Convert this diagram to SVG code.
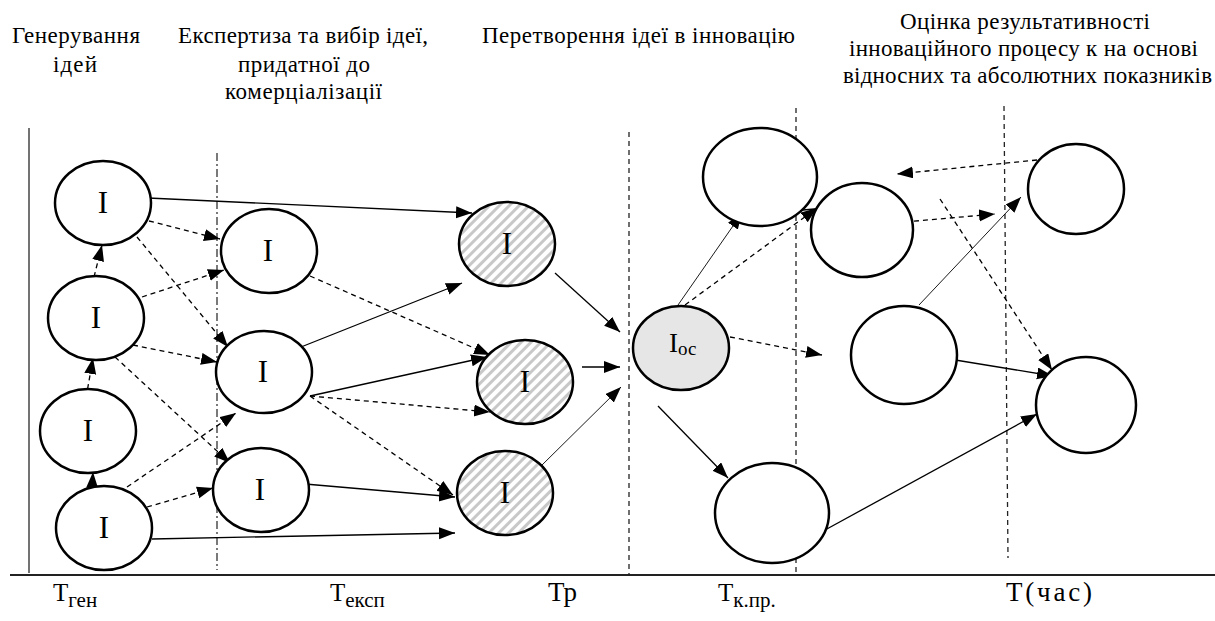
<svg xmlns="http://www.w3.org/2000/svg" width="1215" height="621" viewBox="0 0 1215 621">
<defs>
<marker id="ah" markerUnits="userSpaceOnUse" markerWidth="17" markerHeight="13" refX="16" refY="6" orient="auto" viewBox="0 0 17 13">
<path d="M0,0 L16,6 L0,12 z" fill="#000" stroke="none"/>
</marker>
<pattern id="hatch" patternUnits="userSpaceOnUse" width="7" height="7" patternTransform="rotate(45)">
<rect width="7" height="7" fill="#fff"/>
<rect width="3" height="7" fill="#c8c8c8"/>
</pattern>
</defs>
<rect width="1215" height="621" fill="#fff"/>

<g id="headers" fill="#000" font-family="Liberation Serif, serif" font-size="23">
<text x="12" y="43" textLength="128" lengthAdjust="spacing">Генерування</text>
<text x="53" y="72" textLength="44" lengthAdjust="spacing">ідей</text>
<text x="178" y="43" textLength="250" lengthAdjust="spacing">Експертиза та вибір ідеї,</text>
<text x="238" y="72" textLength="132" lengthAdjust="spacing">придатної до</text>
<text x="225" y="99" textLength="157" lengthAdjust="spacing">комерціалізації</text>
<text x="482" y="43" textLength="313" lengthAdjust="spacing">Перетворення ідеї в інновацію</text>
<text x="900" y="29" textLength="250" lengthAdjust="spacing">Оцінка результативності</text>
<text x="849" y="56" textLength="349" lengthAdjust="spacing">інноваційного процесу к на основі</text>
<text x="843" y="83" textLength="369" lengthAdjust="spacing">відносних та абсолютних показників</text>
</g>

<g id="axes" fill="none">
<line x1="29" y1="128" x2="29" y2="573" stroke="#444" stroke-width="1.5"/>
<line x1="10" y1="575" x2="1215" y2="575" stroke="#222" stroke-width="2"/>
<line x1="217" y1="153" x2="217" y2="570" stroke="#222" stroke-width="1.2" stroke-dasharray="8,3,2,3"/>
<g stroke="#222" stroke-width="1.3" stroke-dasharray="5,4">
<line x1="629" y1="132" x2="629" y2="575"/>
<line x1="796" y1="108" x2="796" y2="572"/>
<line x1="1004" y1="106" x2="1008" y2="558"/>
</g>
</g>

<g id="axis-labels" fill="#000" font-family="Liberation Serif, serif" font-size="25">
<text x="53" y="601">Т<tspan font-size="21" dy="6">ген</tspan></text>
<text x="330" y="601">Т<tspan font-size="21" dy="6">експ</tspan></text>
<text x="548" y="601" font-size="27">Тр</text>
<text x="718" y="601">Т<tspan font-size="21" dy="6">к.пр.</tspan></text>
<text x="1006" y="601" font-size="27" textLength="86" lengthAdjust="spacing">Т(час)</text>
</g>

<g id="connectors" stroke="#000" fill="none" marker-end="url(#ah)">
<g stroke-width="1.3">
<line x1="148" y1="198" x2="472" y2="213"/>
<line x1="301" y1="347" x2="462" y2="283"/>
<line x1="310" y1="396" x2="487" y2="357"/>
<line x1="305" y1="484" x2="455" y2="497"/>
<line x1="152" y1="539" x2="455" y2="533"/>
<line x1="555" y1="273" x2="620" y2="332"/>
<line x1="582" y1="367" x2="620" y2="367"/>
<line x1="658" y1="406" x2="728" y2="478"/>
<line x1="825" y1="530" x2="1037" y2="414"/>
<line x1="943" y1="358" x2="1053" y2="376"/>
<line x1="803" y1="210" x2="837" y2="207"/>
</g>
<g stroke-width="0.9">
<line x1="540" y1="467" x2="621" y2="387"/>
<line x1="678" y1="305" x2="742" y2="213"/>
<line x1="919" y1="305" x2="1021" y2="197"/>
</g>
<g stroke-width="1.3" stroke-dasharray="5,4">
<line x1="149" y1="221" x2="220" y2="239"/>
<line x1="142" y1="297" x2="224" y2="270"/>
<line x1="137" y1="237" x2="228" y2="347"/>
<line x1="133" y1="345" x2="217" y2="362"/>
<line x1="115" y1="357" x2="230" y2="463"/>
<line x1="127" y1="487" x2="236" y2="413"/>
<line x1="147" y1="507" x2="213" y2="488"/>
<line x1="94" y1="277" x2="102" y2="245"/>
<line x1="86" y1="398" x2="93" y2="358"/>
<line x1="92" y1="490" x2="93" y2="472"/>
<line x1="310" y1="276" x2="490" y2="355"/>
<line x1="310" y1="396" x2="490" y2="412"/>
<line x1="310" y1="396" x2="453" y2="495"/>
<line x1="730" y1="337" x2="822" y2="355"/>
<line x1="685" y1="305" x2="817" y2="208"/>
<line x1="905" y1="222" x2="995" y2="214"/>
<line x1="1037" y1="160" x2="897" y2="174"/>
<line x1="940" y1="199" x2="1052" y2="370"/>
</g>
</g>

<g id="nodes" font-family="Liberation Serif, serif" font-size="31" text-anchor="middle" fill="#000">
<g id="A1"><ellipse cx="103" cy="203" rx="48" ry="42" fill="#fff" stroke="#000" stroke-width="2.5"/><text x="103" y="213">I</text></g>
<g id="A2"><ellipse cx="96" cy="318" rx="48" ry="42" fill="#fff" stroke="#000" stroke-width="2.5"/><text x="96" y="328">I</text></g>
<g id="A3"><ellipse cx="88" cy="431" rx="48" ry="42" fill="#fff" stroke="#000" stroke-width="2.5"/><text x="88" y="441">I</text></g>
<g id="A4"><ellipse cx="104" cy="528" rx="48" ry="42" fill="#fff" stroke="#000" stroke-width="2.5"/><text x="104" y="538">I</text></g>
<g id="B1"><ellipse cx="269" cy="251" rx="48" ry="42" fill="#fff" stroke="#000" stroke-width="2.5"/><text x="268" y="261">I</text></g>
<g id="B2"><ellipse cx="264" cy="372" rx="48" ry="41" fill="#fff" stroke="#000" stroke-width="2.5"/><text x="263" y="382">I</text></g>
<g id="B3"><ellipse cx="261" cy="490" rx="48" ry="42" fill="#fff" stroke="#000" stroke-width="2.5"/><text x="260" y="500">I</text></g>
<g id="C1"><ellipse cx="507" cy="244" rx="48" ry="42" fill="url(#hatch)" stroke="#000" stroke-width="2.5"/><text x="507" y="254">I</text></g>
<g id="C2"><ellipse cx="525" cy="382" rx="48" ry="42" fill="url(#hatch)" stroke="#000" stroke-width="2.5"/><text x="525" y="392">I</text></g>
<g id="C3"><ellipse cx="505" cy="493" rx="48" ry="42" fill="url(#hatch)" stroke="#000" stroke-width="2.5"/><text x="505" y="503">I</text></g>
<g id="D"><ellipse cx="681" cy="348" rx="48" ry="42" fill="#e6e6e6" stroke="#000" stroke-width="2.5"/><text x="669" y="352" font-size="27" text-anchor="start">I<tspan dy="3" font-size="19">ос</tspan></text></g>
<g id="E1"><ellipse cx="760" cy="177" rx="57" ry="49" fill="#fff" stroke="#000" stroke-width="2.5"/></g>
<g id="E2"><ellipse cx="862" cy="230" rx="51" ry="47" fill="#fff" stroke="#000" stroke-width="2.5"/></g>
<g id="E3"><ellipse cx="1076" cy="189" rx="48" ry="45" fill="#fff" stroke="#000" stroke-width="2.5"/></g>
<g id="E4"><ellipse cx="904" cy="355" rx="53" ry="49" fill="#fff" stroke="#000" stroke-width="2.5"/></g>
<g id="E5"><ellipse cx="1086" cy="405" rx="50" ry="48" fill="#fff" stroke="#000" stroke-width="2.5"/></g>
<g id="E6"><ellipse cx="772" cy="513" rx="57" ry="50" fill="#fff" stroke="#000" stroke-width="2.5"/></g>
</g>
</svg>
